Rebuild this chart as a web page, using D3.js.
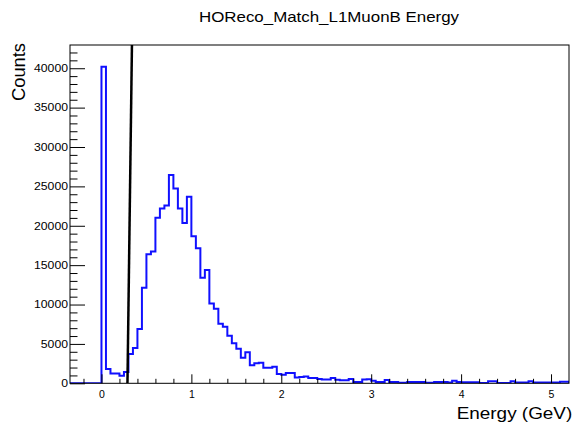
<!DOCTYPE html>
<html>
<head>
<meta charset="utf-8">
<script src="https://cdn.jsdelivr.net/npm/d3@7"></script>
<style>
  html, body { margin: 0; padding: 0; background: #fff; }
  svg { display: block; font-family: "Liberation Sans", Arial, Helvetica, sans-serif; }
</style>
</head>
<body>
<svg id="chart" width="577" height="426"></svg>
<script>
// ---- data ----
const title = "HOReco_Match_L1MuonB Energy";
const xTitle = "Energy (GeV)";
const yTitle = "Counts";
const binLow = -0.35;      // lower edge of first bin
const binWidth = 0.05;     // bin width (GeV)
const counts = [
  0, 0, 0, 0, 0, 0, 0,
  40200, 1800, 1250, 1250, 950, 1450, 3720, 4480, 6900, 12140,
  16380, 16720, 21030, 22180, 22560, 26450, 24720, 22180, 20360, 23700,
  18670, 17140, 13410, 14390, 10130, 9450, 7570, 7170, 6050, 5100,
  4380, 3250, 3940, 2280, 2550, 2600, 1980, 1980, 2110, 1180,
  1100, 1300, 1300, 740, 800, 860, 660, 660, 560, 480,
  480, 680, 440, 380, 380, 560, 180, 180, 480, 520,
  320, 165, 165, 420, 165, 165, 60, 60, 165, 165,
  165, 165, 60, 60, 165, 165, 165, 100, 330, 165,
  130, 130, 130, 130, 50, 50, 250, 250, 50, 50,
  50, 250, 100, 100, 100, 250, 100, 100, 100, 100,
  100, 100, 210, 210
];
const xMajorTicks = [0, 1, 2, 3, 4, 5];
const xMinorTicks = [-0.2, 0.2, 0.4, 0.6, 0.8, 1.2, 1.4, 1.6, 1.8, 2.2, 2.4, 2.6, 2.8,
                     3.2, 3.4, 3.6, 3.8, 4.2, 4.4, 4.6, 4.8];
const yMajorTicks = [0, 5000, 10000, 15000, 20000, 25000, 30000, 35000, 40000];
const yMinorTicks = [1000, 2000, 3000, 4000, 6000, 7000, 8000, 9000, 11000, 12000, 13000, 14000,
                     16000, 17000, 18000, 19000, 21000, 22000, 23000, 24000, 26000, 27000, 28000, 29000,
                     31000, 32000, 33000, 34000, 36000, 37000, 38000, 39000, 41000, 42000];
const xDomain = [-0.35, 5.2];
const yDomain = [0, 42950];
// black line overlay (two points, data coords)
const lineX = [0.289, 0.339];
const lineY = [0, 42950];

// ---- layout ----
const W = 577, H = 426;
const m = { left: 70, top: 45, right: 8, bottom: 42.7 };
const iw = W - m.left - m.right, ih = H - m.top - m.bottom;

const svg = d3.select("#chart");
const x = d3.scaleLinear().domain(xDomain).range([0, iw]);
const y = d3.scaleLinear().domain(yDomain).range([ih, 0]);

const g = svg.append("g").attr("transform", `translate(${m.left},${m.top})`);

svg.append("defs").append("clipPath").attr("id", "clip")
  .append("rect").attr("x", 0).attr("y", 0).attr("width", iw).attr("height", ih);

// histogram step outline
const pts = [];
counts.forEach((c, i) => {
  const x0 = binLow + i * binWidth, x1 = x0 + binWidth;
  pts.push([x(x0), y(c)]);
  pts.push([x(x1), y(c)]);
});
pts.unshift([x(binLow), y(0)]);
pts.push([x(binLow + counts.length * binWidth), y(0)]);

g.append("path")
  .attr("clip-path", "url(#clip)")
  .attr("d", d3.line()(pts))
  .attr("fill", "none")
  .attr("stroke", "#1010ff")
  .attr("stroke-width", 2)
  .attr("stroke-linejoin", "miter");

// black line
g.append("path")
  .attr("clip-path", "url(#clip)")
  .attr("d", d3.line()(lineX.map((v, i) => [x(v), y(lineY[i])])))
  .attr("fill", "none")
  .attr("stroke", "#000")
  .attr("stroke-width", 2.5);

// axes
const xAxis = g.append("g").attr("transform", `translate(0,${ih})`)
  .call(d3.axisBottom(x).tickValues(xMajorTicks).tickSize(-9).tickPadding(7).tickFormat(d3.format("d")));
const xMinor = g.append("g").attr("transform", `translate(0,${ih})`)
  .call(d3.axisBottom(x).tickValues(xMinorTicks).tickSize(-4.5).tickFormat(""));
const yAxis = g.append("g")
  .call(d3.axisLeft(y).tickValues(yMajorTicks).tickSize(-15).tickPadding(2).tickFormat(d3.format("d")));
const yMinor = g.append("g")
  .call(d3.axisLeft(y).tickValues(yMinorTicks).tickSize(-7.5).tickFormat(""));

[xAxis, xMinor, yAxis, yMinor].forEach(a => {
  a.select(".domain").remove();
  a.selectAll("line").attr("stroke", "#000").attr("stroke-width", 1);
});
xAxis.selectAll("text").attr("font-size", 10.5).attr("fill", "#000");
yAxis.selectAll("text").attr("font-size", 10.5).attr("fill", "#000")
  .attr("textLength", d => String(d).length * 6.8).attr("lengthAdjust", "spacingAndGlyphs");

// frame
g.append("rect").attr("x", 0).attr("y", 0).attr("width", iw).attr("height", ih)
  .attr("fill", "none").attr("stroke", "#000").attr("stroke-width", 1);

// titles
svg.append("text").attr("x", 329).attr("y", 21.7).attr("text-anchor", "middle")
  .attr("font-size", 15).attr("textLength", 260).attr("lengthAdjust", "spacingAndGlyphs")
  .attr("fill", "#000").text(title);
svg.append("text").attr("x", 572.3).attr("y", 419).attr("text-anchor", "end")
  .attr("font-size", 17).attr("textLength", 115.6).attr("lengthAdjust", "spacingAndGlyphs")
  .attr("fill", "#000").text(xTitle);
svg.append("text").attr("transform", "translate(25,43) rotate(-90)").attr("text-anchor", "end")
  .attr("font-size", 17.5).attr("textLength", 58).attr("lengthAdjust", "spacingAndGlyphs")
  .attr("fill", "#000").text(yTitle);
</script>
</body>
</html>
